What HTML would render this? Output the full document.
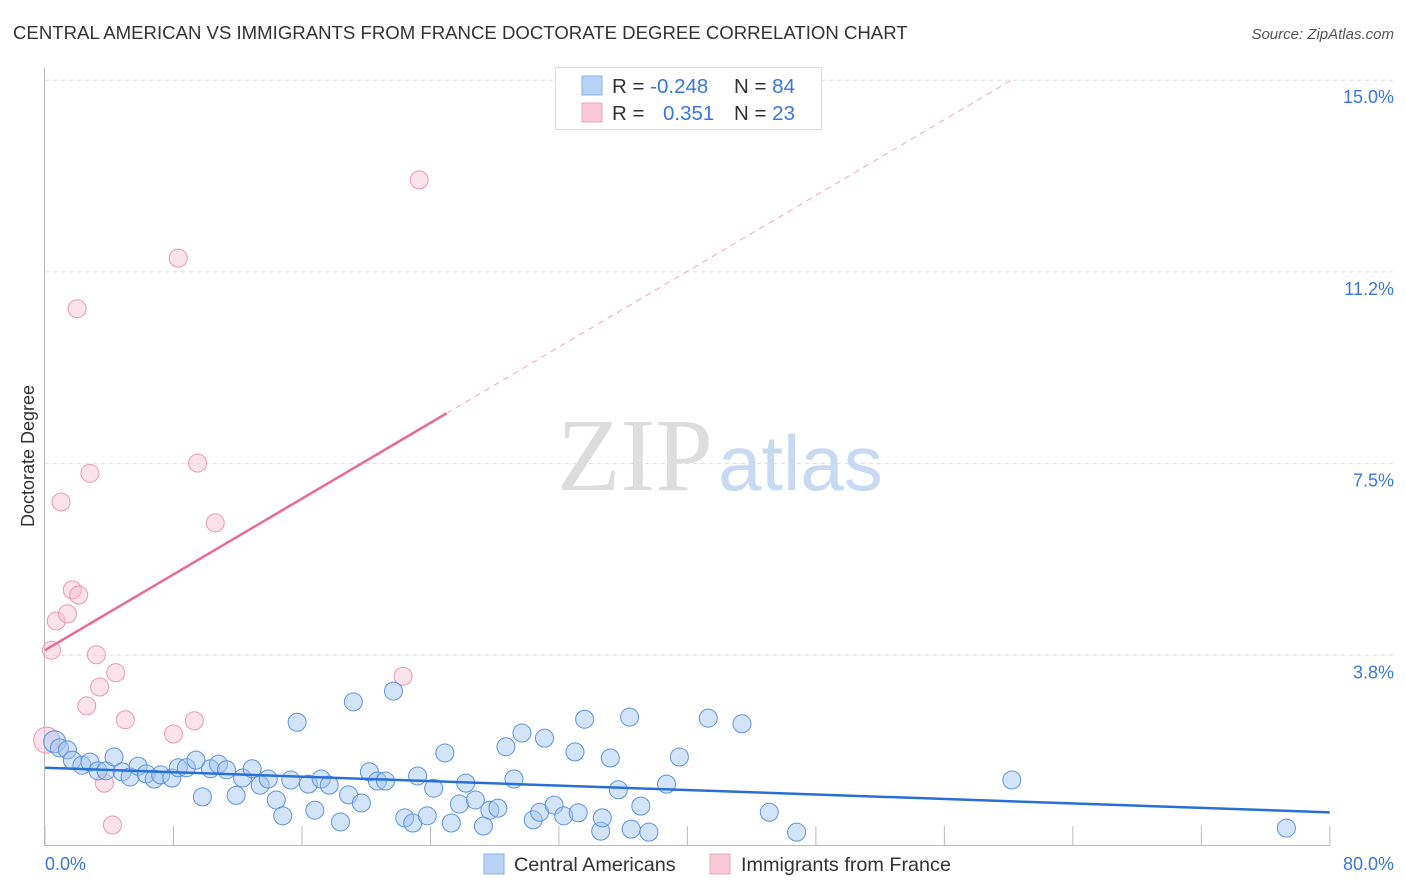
<!DOCTYPE html>
<html><head><meta charset="utf-8"><style>
body{margin:0;background:#fff;font-family:"Liberation Sans",sans-serif;}
svg{display:block}
</style></head><body>
<svg id="chart" width="1406" height="892" xmlns="http://www.w3.org/2000/svg">
<text x="13" y="39" font-size="18.6" fill="#333">CENTRAL AMERICAN VS IMMIGRANTS FROM FRANCE DOCTORATE DEGREE CORRELATION CHART</text>
<text x="1394" y="39" font-size="15" fill="#555" font-style="italic" text-anchor="end">Source: ZipAtlas.com</text>
<text x="635" y="490" font-size="104" fill="#ddd" text-anchor="middle" font-family="Liberation Serif,serif">ZIP</text>
<text x="718" y="490" font-size="78" fill="#c8daf2">atlas</text>
<g id="grid"></g>
<g id="axes"></g>
<g id="marks"></g>
<text transform="translate(34,456) rotate(-90)" font-size="18" fill="#333" text-anchor="middle">Doctorate Degree</text>
<text x="45" y="870" font-size="18" fill="#3b76d8">0.0%</text>
<text x="1394" y="870" font-size="18" fill="#3b76d8" text-anchor="end">80.0%</text>
<g>
<rect x="555.5" y="67.5" width="266" height="62" fill="#fff" stroke="#ddd"/>
<rect x="582" y="76" width="20" height="19" fill="#b8d2f4" stroke="#8ab0e8"/>
<rect x="582" y="103" width="20" height="19" fill="#f9c8d6" stroke="#eea7bb"/>
<text x="612" y="93" font-size="20.5" fill="#333">R = <tspan fill="#3b76d8">-0.248</tspan></text>
<text x="734" y="93" font-size="20.5" fill="#333">N = <tspan fill="#3b76d8">84</tspan></text>
<text x="612" y="120" font-size="20.5" fill="#333">R = </text>
<text x="663" y="120" font-size="20.5" fill="#3b76d8">0.351</text>
<text x="734" y="120" font-size="20.5" fill="#333">N = <tspan fill="#3b76d8">23</tspan></text>
</g>
<g>
<rect x="484" y="854" width="20" height="20" fill="#b8d2f4" stroke="#8ab0e8"/>
<text x="514" y="871" font-size="19.8" fill="#333">Central Americans</text>
<rect x="710" y="854" width="20" height="20" fill="#f9c8d6" stroke="#eea7bb"/>
<text x="741" y="871" font-size="19.8" fill="#333">Immigrants from France</text>
</g>
</svg>
<script>
const yTicks=[3.75,7.5,11.25,15];
const yTickLabels=["3.8%","7.5%","11.2%","15.0%"];
const xTicks=[0,8,16,24,32,40,48,56,64,72,80];
const blueX=[0.6,0.9,1.4,1.7,2.3,2.8,3.3,3.8,4.3,4.8,5.3,5.8,6.3,6.8,7.2,7.9,8.3,8.8,9.4,9.8,10.3,10.8,11.3,11.9,12.3,12.9,13.4,13.9,14.4,14.8,15.3,15.7,16.4,16.8,17.2,17.7,18.4,18.9,19.2,19.7,20.2,20.7,21.2,21.7,22.4,22.9,23.2,23.8,24.2,24.9,25.3,25.8,26.2,26.8,27.3,27.7,28.2,28.7,29.2,29.7,30.4,30.8,31.1,31.7,32.3,33.0,33.2,33.6,34.6,34.7,35.2,35.7,36.4,36.5,37.1,37.6,38.7,39.5,41.3,43.4,45.1,46.8,60.2,77.3];
const blueY=[2.06,1.94,1.90,1.70,1.60,1.66,1.49,1.49,1.76,1.47,1.37,1.58,1.43,1.33,1.41,1.35,1.55,1.55,1.70,0.98,1.53,1.62,1.51,1.01,1.35,1.53,1.21,1.33,0.92,0.61,1.31,2.44,1.23,0.72,1.33,1.21,0.49,1.02,2.84,0.86,1.47,1.29,1.29,3.05,0.57,0.47,1.39,0.61,1.15,1.84,0.47,0.84,1.25,0.92,0.41,0.72,0.76,1.96,1.33,2.23,0.53,0.68,2.13,0.82,0.61,1.86,0.67,2.50,0.31,0.57,1.74,1.12,2.54,0.35,0.80,0.29,1.23,1.76,2.52,2.41,0.68,0.29,1.31,0.37];
const pinkX=[0.1,0.4,0.7,1.0,1.4,1.7,2.1,2.0,2.6,2.8,3.2,3.4,3.7,4.2,4.4,5.0,8.0,8.3,9.3,9.5,10.6,22.3,23.3];
const pinkY=[2.09,3.85,4.42,6.75,4.56,5.03,4.93,10.53,2.76,7.31,3.76,3.13,1.25,0.43,3.41,2.49,2.21,11.52,2.47,7.51,6.34,3.34,13.05];
const blueTrend=[1.55,-0.0109];
const pinkTrend=[3.85,0.1853];
const NS="http://www.w3.org/2000/svg";
const X=v=>45+v*16.06, Y=v=>847-v*51.12;
function mk(t,a,p){const e=document.createElementNS(NS,t);for(const k in a)e.setAttribute(k,a[k]);p.appendChild(e);return e;}
const grid=document.getElementById('grid'),axes=document.getElementById('axes'),marks=document.getElementById('marks');
yTicks.forEach((t,i)=>{
 const l=mk('line',{x1:45,x2:1394,y1:Y(t),y2:Y(t),stroke:'#ddd','stroke-dasharray':'4,4'},grid);
 
 
 const tx=mk('text',{x:1394,y:Y(t)+23,'font-size':18,fill:'#3b76d8','text-anchor':'end'},grid);
 tx.textContent=yTickLabels[i];
 
 
});
const ax=mk('path',{d:'M44.5,68 V845.5 H1330',stroke:'#bbb',fill:'none'},axes);


xTicks.forEach(t=>{
 const l=mk('line',{x1:X(t),x2:X(t),y1:826,y2:845,stroke:'#bbb'},axes);
 
 
});
function dot(x,y,fill,stroke,name,r){
 const c=mk('circle',{cx:X(x),cy:Y(y),r:r||9,fill:fill,stroke:stroke,'stroke-width':1},marks);
 
 
}
pinkX.forEach((x,i)=>dot(x,pinkY[i],'rgba(249,190,208,0.45)','#eb98b2','pink-point',i===0?13:9));
blueX.forEach((x,i)=>dot(x,blueY[i],'rgba(160,196,240,0.45)','#5b93e0','blue-point',i===0?11:9));
const bt=mk('line',{x1:X(0),y1:Y(blueTrend[0]),x2:X(80),y2:Y(blueTrend[0]+80*blueTrend[1]),stroke:'#2a6fd6','stroke-width':2.5},marks);


const pe=25;
const pt=mk('line',{x1:X(0),y1:Y(pinkTrend[0]),x2:X(pe),y2:Y(pinkTrend[0]+pe*pinkTrend[1]),stroke:'#e8699a','stroke-width':2.5},marks);


const pe2=(15-pinkTrend[0])/pinkTrend[1];
const pd=mk('line',{x1:X(pe),y1:Y(pinkTrend[0]+pe*pinkTrend[1]),x2:X(pe2),y2:Y(15),stroke:'#eeaac2','stroke-width':1,'stroke-dasharray':'6,5'},marks);


</script>
</body></html>
